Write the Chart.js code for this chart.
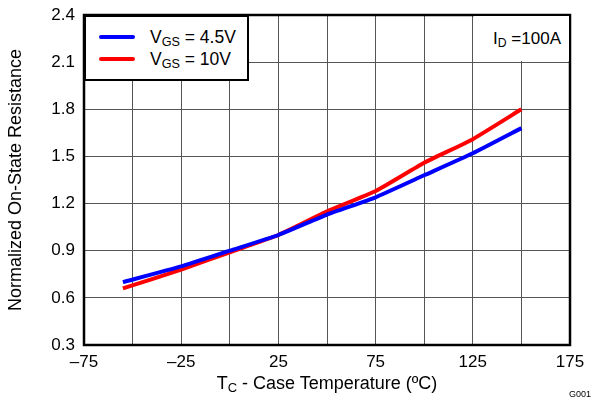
<!DOCTYPE html>
<html>
<head>
<meta charset="utf-8">
<script src="https://cdn.jsdelivr.net/npm/chart.js@4/dist/chart.umd.min.js"></script>
<style>
  body { margin: 0; background: #fff; font-family: "Liberation Sans", Arial, sans-serif; color: #000; }
  #wrap { position: relative; width: 592px; height: 400px; }
  canvas { position: absolute; left: 0; top: 0; }
  .legend { position: absolute; left: 84px; top: 15px; width: 165px; height: 66px; box-sizing: border-box;
            border: 2.5px solid #000; background: #fff; }
  .row { position: absolute; left: 0; height: 22px; display: flex; align-items: center; font-size: 17.5px; }
  .swatch { display: inline-block; width: 36px; height: 4px; border-radius: 2px; margin: 0 15px 0 13px; }
  .note { position: absolute; left: 474px; top: 16px; width: 95px; height: 45px; background: #fff; font-size: 17px; }
  .note span.t { position: absolute; right: 8px; top: 13px; }
  .xtitle { position: absolute; top: 373px; left: 0; width: 654px; text-align: center; font-size: 18px; }
  sub { font-size: 0.72em; vertical-align: -0.25em; line-height: 0; }
  .gid { position: absolute; left: 569px; top: 389px; font-size: 9px; }
</style>
</head>
<body>
<div id="wrap">
  <canvas id="chart" width="592" height="400"></canvas>
  <div class="legend">
    <div class="row" style="top:9px"><span class="swatch" style="background:#0000ff"></span><span>V<sub>GS</sub> = 4.5V</span></div>
    <div class="row" style="top:31px"><span class="swatch" style="background:#ff0000"></span><span>V<sub>GS</sub> = 10V</span></div>
  </div>
  <div class="note"><span class="t">I<sub>D</sub> =100A</span></div>
  <div class="xtitle">T<sub>C</sub> - Case Temperature (ºC)</div>
  <div class="gid">G001</div>
</div>
<script>
const temps = [-55, -25, 0, 25, 50, 75, 100, 125, 150];
const vgs45 = [0.70, 0.80, 0.90, 1.00, 1.13, 1.24, 1.38, 1.52, 1.68];
const vgs10 = [0.66, 0.78, 0.89, 1.00, 1.15, 1.28, 1.46, 1.61, 1.80];
const xLabels = [-75, -25, 25, 75, 125, 175];

const FONT = '"Liberation Sans", Arial, sans-serif';

const frame = {
  id: 'frame',
  afterDatasetsDraw(chart) {
    const { ctx, chartArea: a } = chart;
    ctx.save();
    ctx.strokeStyle = '#000';
    ctx.lineWidth = 2.5;
    ctx.strokeRect(a.left, a.top, a.right - a.left, a.bottom - a.top);
    ctx.restore();
  }
};

const pts = ys => temps.map((t, i) => ({ x: t, y: ys[i] }));

new Chart(document.getElementById('chart'), {
  type: 'line',
  data: {
    datasets: [
      { label: 'VGS = 4.5V', data: pts(vgs45), borderColor: '#0000ff', borderWidth: 4, pointRadius: 0, tension: 0.15 },
      { label: 'VGS = 10V', data: pts(vgs10), borderColor: '#ff0000', borderWidth: 4, pointRadius: 0, tension: 0.15 }
    ]
  },
  options: {
    responsive: false,
    animation: false,
    layout: { padding: { top: 15, right: 22, left: 0, bottom: 0 } },
    plugins: { legend: { display: false }, tooltip: { enabled: false } },
    scales: {
      x: {
        type: 'linear', min: -75, max: 175,
        afterFit(s) { s.height = 55; s.paddingLeft = 0; s.paddingRight = 0; },
        grid: { color: '#555', lineWidth: 1, drawTicks: false },
        border: { display: false },
        ticks: {
          stepSize: 25, padding: 7, color: '#000', font: { family: FONT, size: 17 },
          autoSkip: false, maxRotation: 0,
          callback: v => xLabels.includes(v) ? String(v).replace('-', '\u2013') : ''
        }
      },
      y: {
        min: 0.3, max: 2.4,
        afterFit(s) { s.width = 84; s.paddingTop = 0; s.paddingBottom = 0; },
        grid: { color: '#555', lineWidth: 1, drawTicks: false },
        border: { display: false },
        ticks: { stepSize: 0.3, padding: 9, color: '#000', font: { family: FONT, size: 17 }, callback: v => v.toFixed(1) },
        title: { display: true, text: 'Normalized On-State Resistance', color: '#000', font: { family: FONT, size: 18 }, padding: { top: 5, bottom: 0 } }
      }
    }
  },
  plugins: [frame]
});
</script>
</body>
</html>
